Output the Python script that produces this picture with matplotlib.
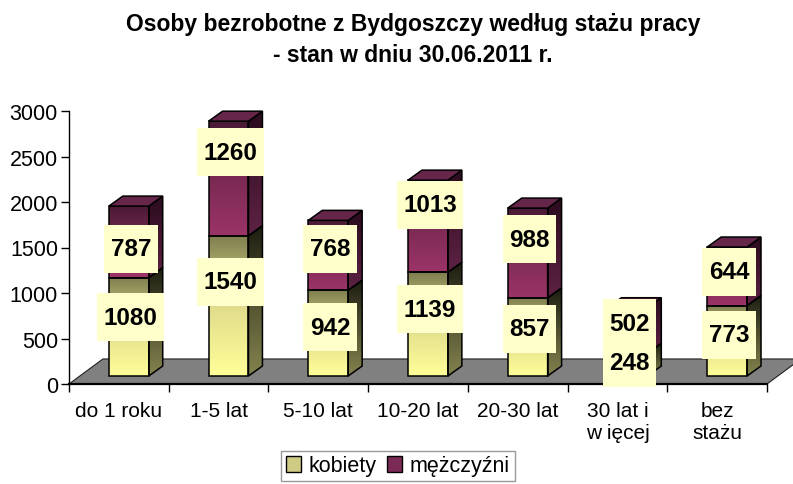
import numpy as np
import matplotlib
matplotlib.use("Agg")
import matplotlib.pyplot as plt
from matplotlib.colors import LinearSegmentedColormap
from matplotlib.patches import Polygon, Patch

# ----------------------------------------------------------------------
# data
# ----------------------------------------------------------------------
categories = ["do 1 roku", "1-5 lat", "5-10 lat", "10-20 lat", "20-30 lat",
              "30 lat i\nw ięcej", "bez\nstażu"]
kobiety = [1080, 1540, 942, 1139, 857, 248, 773]
mezczyzni = [787, 1260, 768, 1013, 988, 502, 644]

# label nudges (value units) as the labels sit in the original
nudge_k = [108, 263, 67, 166, 88, 19, 64]
nudge_m = [-77, 291, 70, 234, 154, 83, 48]

plt.rcParams["font.family"] = ["Liberation Sans", "DejaVu Sans"]

# 3d-look geometry (category units / value units)
BW = 0.40          # front face width
X_OFF = -0.10      # left edge of front face relative to category
LIFT = 88          # bars stand slightly behind the floor front edge
DX, DY = 0.14, 110  # depth of bar
FDX, FDY = 0.34, 275  # depth of floor

k_front = LinearSegmentedColormap.from_list("kf", ["#FFFF99", "#E0DC8C", "#7F7F4F"])
k_side = LinearSegmentedColormap.from_list("ks", ["#84844F", "#1E1E12"])
m_front = LinearSegmentedColormap.from_list("mf", ["#9C3468", "#7A2A53", "#4A1A35"])
m_side = LinearSegmentedColormap.from_list("ms", ["#5E2244", "#2A0C1D"])
grad = np.linspace(0, 1, 256).reshape(-1, 1)

fig = plt.figure(figsize=(7.93, 4.85), dpi=100)
ax = fig.add_axes([69 / 793, 100 / 485, 698 / 793, 273 / 485])

# floor
floor = Polygon([(-0.5, 0), (6.5, 0), (6.5 + FDX, FDY), (-0.5 + FDX, FDY)],
                closed=True, facecolor="#808080", edgecolor="#202020", lw=0.8,
                zorder=1, clip_on=False)
ax.add_patch(floor)


def gradient_face(poly_pts, cmap, extent, z):
    poly = Polygon(poly_pts, closed=True, facecolor="none", edgecolor="black",
                   lw=1.1, zorder=z + 0.5, clip_on=False)
    ax.add_patch(poly)
    im = ax.imshow(grad, cmap=cmap, origin="lower", extent=extent,
                   aspect="auto", interpolation="bilinear", zorder=z)
    im.set_clip_path(poly)


box = dict(boxstyle="square,pad=0.27", facecolor="#FFFFCC", edgecolor="none",
           mutation_aspect=1.95)

for i in range(len(categories)):
    x0 = i + X_OFF
    x1 = x0 + BW
    segs = [(LIFT, kobiety[i], k_front, k_side),
            (LIFT + kobiety[i], mezczyzni[i], m_front, m_side)]
    for b, h, cf, cs in segs:
        t = b + h
        gradient_face([(x0, b), (x1, b), (x1, t), (x0, t)], cf, [x0, x1, b, t], 3)
        gradient_face([(x1, b), (x1 + DX, b + DY), (x1 + DX, t + DY), (x1, t)],
                      cs, [x1, x1 + DX, b, t + DY], 3)
    top = LIFT + kobiety[i] + mezczyzni[i]
    ax.add_patch(Polygon([(x0, top), (x1, top), (x1 + DX, top + DY), (x0 + DX, top + DY)],
                         closed=True, facecolor="#66264A", edgecolor="black",
                         lw=1.1, zorder=4, clip_on=False))

    # value labels
    xc = x0 + BW / 2 + 0.02
    ax.text(xc, LIFT + kobiety[i] / 2 + nudge_k[i], str(kobiety[i]), ha="center",
            va="center", fontsize=17.5, fontweight="bold", bbox=box, zorder=10)
    ax.text(xc, LIFT + kobiety[i] + mezczyzni[i] / 2 + nudge_m[i], str(mezczyzni[i]),
            ha="center", va="center", fontsize=17.5, fontweight="bold", bbox=box, zorder=9)

ax.set_xlim(-0.5, 6.5)
ax.set_ylim(0, 3000)
ax.set_yticks(np.arange(0, 3001, 500))
ax.set_xticks(range(len(categories)))
ax.set_xticklabels(categories)
ax.set_xticks(np.arange(-0.5, 7, 1), minor=True)
ax.tick_params(axis="x", which="major", length=0, pad=12, labelsize=15)
ax.tick_params(axis="x", which="minor", length=6, width=1, direction="out")
ax.tick_params(axis="y", length=6, width=1, direction="out", pad=2, labelsize=15.5)
for s in ["top", "right"]:
    ax.spines[s].set_visible(False)
ax.spines["left"].set_linewidth(1.0)
ax.spines["bottom"].set_linewidth(1.6)
ax.spines["bottom"].set_zorder(2)
ax.patch.set_visible(False)

fig.text(413 / 793, 1 - 40 / 485,
         "Osoby bezrobotne z Bydgoszczy według stażu pracy\n- stan w dniu 30.06.2011 r.",
         ha="center", va="center", fontsize=16.5, fontweight="bold", linespacing=1.45)

handles = [Patch(facecolor="#CFCB85", edgecolor="black", lw=1.0),
           Patch(facecolor="#7A2A55", edgecolor="black", lw=1.0)]
leg = fig.legend(handles, ["kobiety", "mężczyźni"], loc="center",
                 bbox_to_anchor=(398 / 793, 1 - 467 / 485), ncol=2, fontsize=15.5,
                 frameon=True, fancybox=False, handlelength=0.7, handleheight=0.7,
                 handletextpad=0.35, columnspacing=0.5, borderpad=0.22,
                 borderaxespad=0)
leg.get_frame().set_edgecolor("#808080")
leg.get_frame().set_linewidth(1.0)

fig.savefig("out.png", dpi=100)
